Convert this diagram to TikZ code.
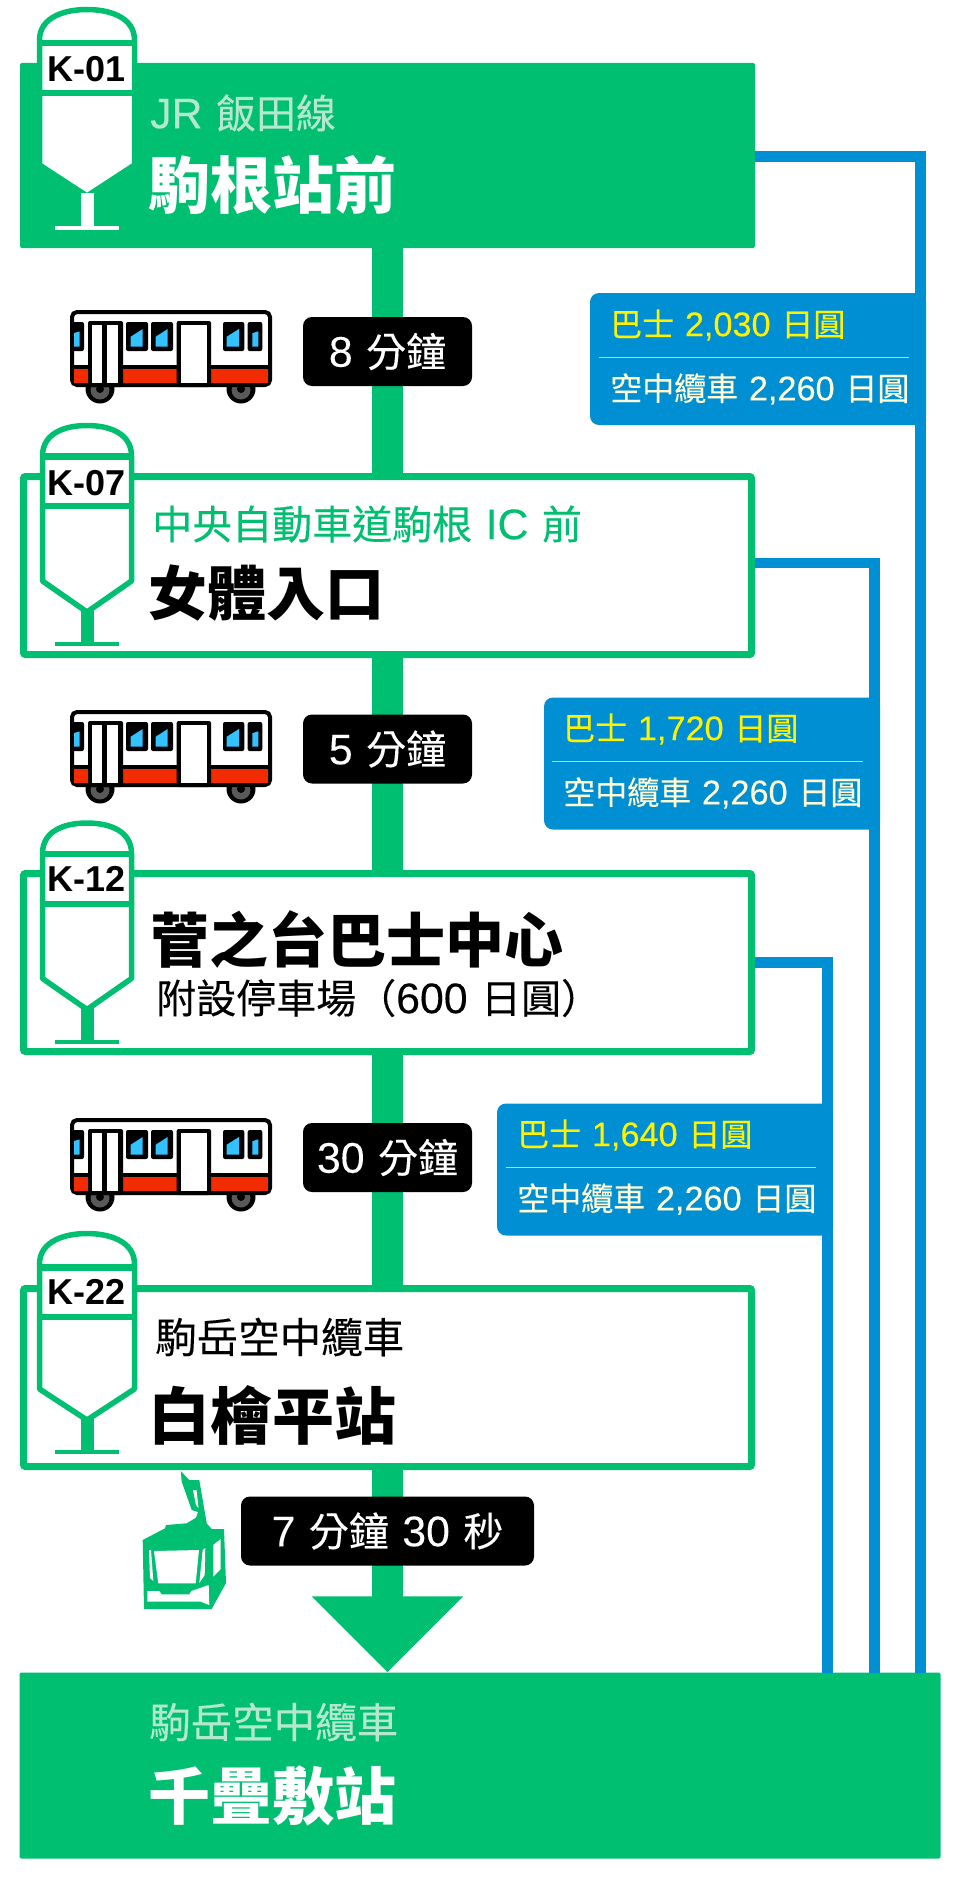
\documentclass[tikz,border=0pt]{standalone}
\usepackage{fontspec}
\setmainfont{Liberation Sans}
\newfontfamily\cjk[WordSpace=1.5,FakeBold=0.2,BoldFeatures={FakeBold=0}]{Noto Sans CJK TC}
\newfontfamily\latfont[Scale=1.07,FakeBold=0.15]{Liberation Sans}
\usetikzlibrary{arrows.meta}

\definecolor{routegreen}{HTML}{00BF71}
\definecolor{paleroute}{HTML}{B3E8CE}
\definecolor{fareblue}{HTML}{008FD3}
\definecolor{farecream}{HTML}{FFFBD5}
\definecolor{busred}{HTML}{F22B00}
\definecolor{busglass}{HTML}{33C2FF}

\newcommand{\pxfont}[1]{\cjk\fontsize{#1}{#1}\selectfont}

\tikzset{
  stationfull/.style={fill=routegreen,rounded corners=2,minimum width=735,minimum height=185,inner sep=0},
  stationline/.style={draw=routegreen,fill=white,line width=7,rounded corners=2,minimum width=728,minimum height=178,inner sep=0},
  trunk/.style={routegreen,line width=31},
  farelink/.style={fareblue,line width=10.5},
  subtext/.style={anchor=west,inner sep=0,font=\pxfont{40}},
  titletext/.style={anchor=west,inner sep=0,font=\pxfont{62}\bfseries},
  pinlabel/.style={inner sep=0,font=\rmfamily\fontsize{36}{36}\selectfont\bfseries},
  duration/.style={fill=black,text=white,rounded corners=9,minimum height=69,inner sep=0,font=\pxfont{40}},
  farebox/.style={fill=fareblue,rounded corners=9,minimum height=132,inner sep=0},
  faretext/.style={anchor=west,inner sep=0,font=\pxfont{32}},
  farerule/.style={farecream!70!fareblue,line width=0.8},
  winframe/.style={fill=black,rounded corners=2},
  winglass/.style={fill=busglass},
  pics/stationpin/.style n args={3}{code={
    \draw[routegreen,line width=5.5,fill=white,line join=round] (-#3,33) .. controls (-#3,10) and (-22,2.5) .. (0,2.5)
      .. controls (22,2.5) and (#3,10) .. (#3,33) -- (#3,158) -- (0,189) -- (-#3,158) -- cycle;
    \fill[routegreen] (-#3,#1) rectangle (#3,#1+6.5);
    \fill[routegreen] (-#3,#1+50) rectangle (#3,#1+56);
    \fill[#2] (-6.5,186) rectangle (6.5,220);
    \fill[#2] (-32,219) rectangle (32,223);
  }},
  pics/busicon/.style={code={
    \fill[black] (30,79) circle (14.5);
    \fill[black] (171,79) circle (14.5);
    \fill[black!65] (30,80) circle (9.5);
    \fill[black!65] (171,80) circle (9.5);
    \fill[black] (30,79) circle (4);
    \fill[black] (171,79) circle (4);
    \draw[black,line width=4,fill=white,rounded corners=5] (2,75) -- (2,2) -- (200,2) -- (200,75) -- cycle;
    \fill[busred] (4,59) rectangle (198,73);
    \draw[black,line width=4.5] (2,57) -- (200,57);
    \fill[winframe] (1,12) rectangle (14,41);
    \fill[winglass] (4,23) -- (9.5,21.5) -- (9.5,36.7) -- (4,36.7) -- cycle;
    \fill[winframe] (18,11) rectangle (53,77);
    \fill[white] (22.3,15.3) rectangle (32.3,73);
    \fill[white] (36.7,15.3) rectangle (48.3,73);
    \fill[winframe] (56,12) rectangle (78,41);
    \fill[winglass] (60.7,26.7) -- (72.7,19) -- (72.7,36.7) -- (60.7,36.7) -- cycle;
    \fill[winframe] (81,12) rectangle (103,41);
    \fill[winglass] (85.7,26.7) -- (97.7,19) -- (97.7,36.7) -- (85.7,36.7) -- cycle;
    \fill[winframe] (106.7,11) rectangle (141,77);
    \fill[white] (111.3,15.3) rectangle (137.3,73);
    \fill[winframe] (153,12) rectangle (174.3,41);
    \fill[winglass] (156.7,26.7) -- (169,19) -- (169,36.7) -- (156.7,36.7) -- cycle;
    \fill[winframe] (177.7,12) rectangle (192.3,41);
    \fill[winglass] (182.3,23.3) -- (188.3,21.3) -- (188.3,36.7) -- (182.3,36.7) -- cycle;
  }},
}

\begin{document}
\begin{tikzpicture}[x=1pt,y=-1pt]
  \useasboundingbox (0,0) rectangle (960,1881);

  % stations
  \node[stationfull] (komagane)  at (387.5,155.5)  {};
  \node[stationline] (onna)      at (387.5,565.5)  {};
  \node[stationline] (suganodai) at (387.5,962.5)  {};
  \node[stationline] (shirabi)   at (387.5,1377.5) {};
  \node[stationfull,minimum width=921,minimum height=186] (senjo) at (480,1765.5) {};

  % main line
  \draw[trunk] (komagane) -- (onna);
  \draw[trunk] (onna) -- (suganodai);
  \draw[trunk] (suganodai) -- (shirabi);
  \draw[trunk,-{Triangle[width=147pt,length=76pt]}] (shirabi.south) -- (shirabi.south |- senjo.north);

  % fare boxes
  \node[farebox,minimum width=336] (farea) at (758,359)    {};
  \node[farebox,minimum width=336] (fareb) at (712,763.5)  {};
  \node[farebox,minimum width=336] (farec) at (665,1169.5) {};

  % bus links
  \coordinate (enda) at (920.5,1673);
  \coordinate (endb) at (874.5,1673);
  \coordinate (endc) at (827.5,1673);
  \draw[farelink] ([yshift=-1]komagane.east) -| (enda);
  \draw[farelink] ([yshift=2.5]onna.east) -| (endb);
  \draw[farelink] (suganodai.east) -| (endc);

  % fare texts
  \node[faretext,text=yellow] (buspricea) at (610,325) {巴士 {\latfont 2,030} 日圓};
  \draw[farerule] (599,357) -- (909,357);
  \node[faretext,text=farecream] (cablepricea) at (610,389) {空中纜車 {\latfont 2,260} 日圓};
  \node[faretext,text=yellow] (buspriceb) at (563,729) {巴士 {\latfont 1,720} 日圓};
  \draw[farerule] (552,761) -- (863,761);
  \node[faretext,text=farecream] (cablepriceb) at (563,793) {空中纜車 {\latfont 2,260} 日圓};
  \node[faretext,text=yellow] (buspricec) at (517,1135) {巴士 {\latfont 1,640} 日圓};
  \draw[farerule] (506,1167) -- (816,1167);
  \node[faretext,text=farecream] (cablepricec) at (517,1199) {空中纜車 {\latfont 2,260} 日圓};

  % station names
  \node[subtext,text=paleroute] (linea) at (150,113) {{\latfont JR} 飯田線};
  \node[titletext,text=white] (namea) at (148,185) {駒根站前};
  \node[subtext,text=routegreen] (lineb) at (152,524) {中央自動車道駒根 {\latfont IC} 前};
  \node[titletext,font=\pxfont{59}\bfseries] (nameb) at (148,593) {女體入口};
  \node[titletext,font=\pxfont{59}\bfseries] (namec) at (150,940) {菅之台巴士中心};
  \node[subtext] (linec) at (156,998) {附設停車場（{\latfont 600} 日圓）};
  \node[subtext,font=\pxfont{41.5}] (lined) at (155,1337) {駒岳空中纜車};
  \node[titletext] (named) at (148,1415) {白檜平站};
  \node[subtext,text=paleroute,font=\pxfont{41.5}] (linee) at (149,1722) {駒岳空中纜車};
  \node[titletext,text=white] (namee) at (148,1796) {千疊敷站};

  % station pins
  \pic at (87,7)      {stationpin={33}{white}{47.5}};
  \pic at (87,423)    {stationpin={30}{routegreen}{44.5}};
  \pic at (87,820.5)  {stationpin={30}{routegreen}{44.5}};
  \pic at (87,1231)   {stationpin={33}{routegreen}{47.5}};
  \node[pinlabel] (kone)   at (87,69.5)  {K-01};
  \node[pinlabel] (kseven) at (87,483)   {K-07};
  \node[pinlabel] (ktwelve) at (87,879)  {K-12};
  \node[pinlabel] (ktwo)   at (87,1292)  {K-22};

  % buses and times
  \pic at (70,310)  {busicon};
  \pic at (70,710)  {busicon};
  \pic at (70,1118) {busicon};
  \node[duration,minimum width=169] (timea) at (387.5,351.5)  {{\latfont 8} 分鐘};
  \node[duration,minimum width=169] (timeb) at (387.5,749)    {{\latfont 5} 分鐘};
  \node[duration,minimum width=169] (timec) at (387.5,1157.5) {{\latfont 30} 分鐘};
  \node[duration,minimum width=293] (timed) at (387.5,1531)   {{\latfont 7} 分鐘 {\latfont 30} 秒};

  % gondola
  \fill[routegreen] (180.7,1471) -- (189.3,1480) -- (199.3,1480) -- (206.7,1523.3) -- (211.7,1529) -- (224,1529)
    -- (226,1583) -- (211.7,1609) -- (144,1609) -- (142.7,1540) -- (165,1528.3) -- (166,1525) -- (186.7,1523.3)
    -- (196,1517.7) -- (198,1512) -- (191.7,1510) -- (181.7,1481.7) -- cycle;
  \fill[white] (154,1551) -- (199,1550) -- (195.7,1583.3) -- (158.3,1583.3) -- cycle;
  \fill[white] (149,1550) -- (151,1550) -- (153.3,1581) -- (150,1578) -- cycle;
  \fill[white] (202.7,1550) -- (205.3,1548) -- (204.7,1575) -- (199.3,1583) -- cycle;
  \fill[white] (213.3,1545) -- (220.7,1539) -- (220.7,1569) -- (213.3,1576.7) -- cycle;
  \fill[white] (147.3,1591) -- (159.3,1591) -- (161.7,1594.3) -- (189.3,1594.3) -- (191.3,1591) -- (208.7,1585)
    -- (209.3,1605) -- (200.7,1601.7) -- (147.3,1601.7) -- cycle;
  \fill[white] (193,1490) -- (196.5,1490) -- (198.5,1508) -- (196,1505) -- cycle;
\end{tikzpicture}
\end{document}
